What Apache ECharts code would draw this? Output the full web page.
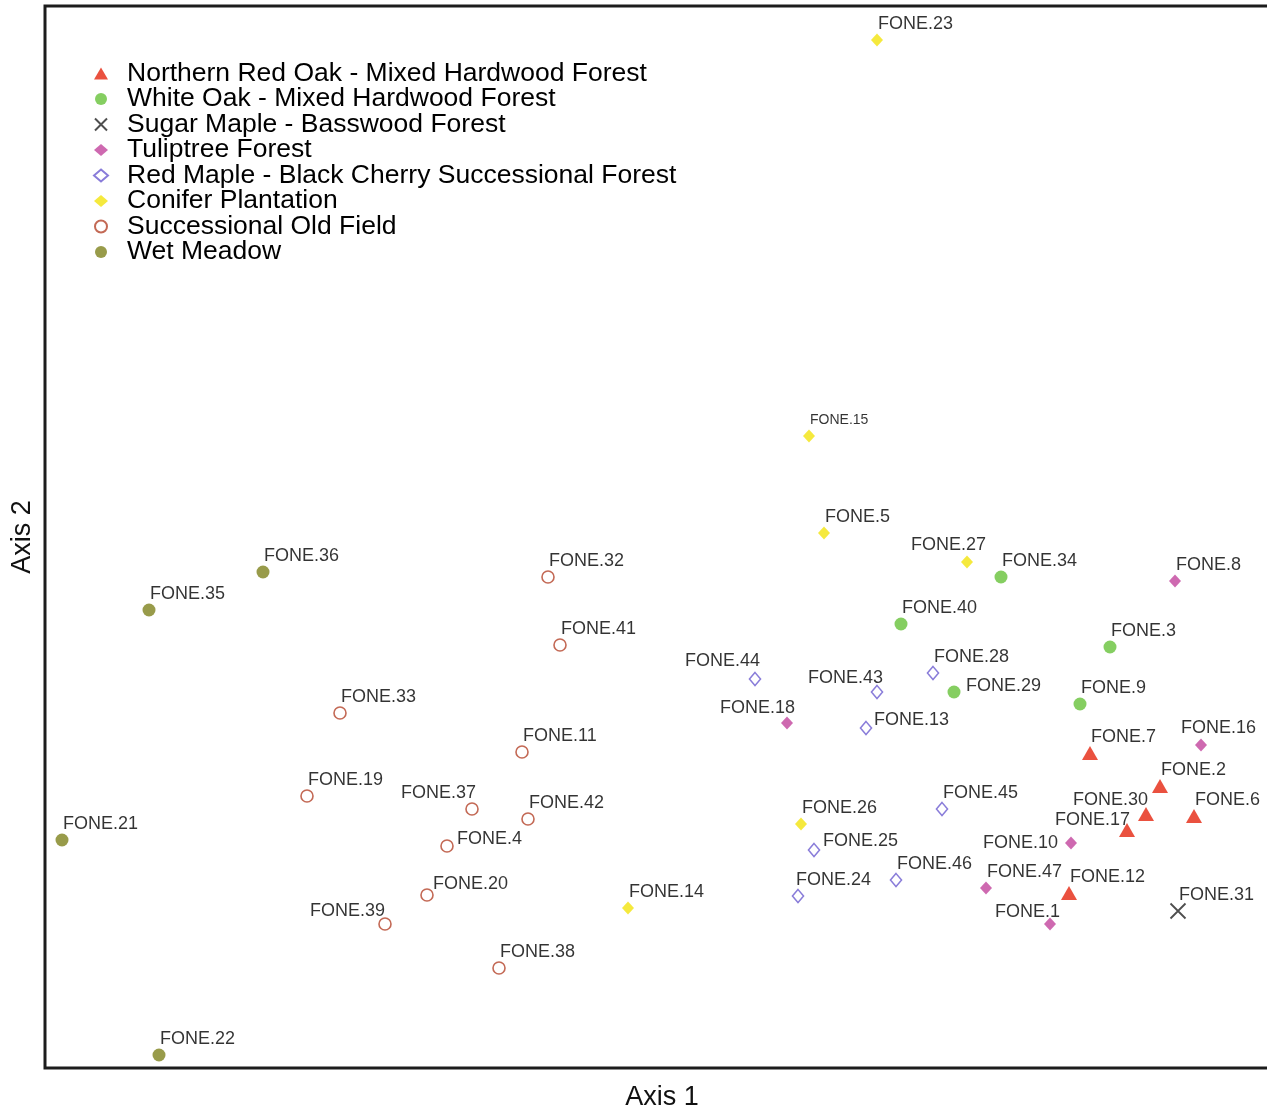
<!DOCTYPE html>
<html>
<head>
<meta charset="utf-8">
<script src="https://cdn.jsdelivr.net/npm/echarts@6/dist/echarts.min.js"></script>
<style>
  html, body { margin: 0; padding: 0; background: #fff; }
  #chart { width: 1267px; height: 1111px; }
</style>
</head>
<body>
<div id="chart"></div>
<script>
// ordination scores [site, axis 1, axis 2]
const redOak = [
  ['FONE.7', 1045, 315], ['FONE.2', 1115, 282], ['FONE.30', 1101, 254],
  ['FONE.17', 1082, 238], ['FONE.6', 1149, 252], ['FONE.12', 1024, 175]
]
const whiteOak = [
  ['FONE.40', 856, 444], ['FONE.34', 956, 491], ['FONE.3', 1065, 421],
  ['FONE.29', 909, 376], ['FONE.9', 1035, 364]
]
const sugarMaple = [
  ['FONE.31', 1133, 157]
]
const tuliptree = [
  ['FONE.8', 1130, 487], ['FONE.16', 1156, 323], ['FONE.18', 742, 345],
  ['FONE.10', 1026, 225], ['FONE.47', 941, 180], ['FONE.1', 1005, 144]
]
const redMaple = [
  ['FONE.44', 710, 389], ['FONE.43', 832, 376], ['FONE.28', 888, 395],
  ['FONE.13', 821, 340], ['FONE.45', 897, 259], ['FONE.25', 769, 218],
  ['FONE.46', 851, 188], ['FONE.24', 753, 172]
]
const conifer = [
  ['FONE.23', 832, 1028], ['FONE.15', 764, 632], ['FONE.5', 779, 535],
  ['FONE.27', 922, 506], ['FONE.26', 756, 244], ['FONE.14', 583, 160]
]
const oldField = [
  ['FONE.32', 503, 491], ['FONE.41', 515, 423], ['FONE.33', 295, 355],
  ['FONE.11', 477, 316], ['FONE.19', 262, 272], ['FONE.37', 427, 259],
  ['FONE.42', 483, 249], ['FONE.4', 402, 222], ['FONE.20', 382, 173],
  ['FONE.39', 340, 144], ['FONE.38', 454, 100]
]
const wetMeadow = [
  ['FONE.36', 218, 496], ['FONE.35', 104, 458], ['FONE.21', 17, 228],
  ['FONE.22', 114, 13]
]

const groupNames = [
  'Northern Red Oak - Mixed Hardwood Forest',
  'White Oak - Mixed Hardwood Forest',
  'Sugar Maple - Basswood Forest',
  'Tuliptree Forest',
  'Red Maple - Black Cherry Successional Forest',
  'Conifer Plantation',
  'Successional Old Field',
  'Wet Meadow'
]
const groups = [redOak, whiteOak, sugarMaple, tuliptree, redMaple, conifer, oldField, wetMeadow]

// label placement tweaks: [align, dx, dy]; default is upper right
const labelPlace = {
  'FONE.44': ['right', 5, -18], 'FONE.43': ['right', 6, -14], 'FONE.18': ['right', 8, -15],
  'FONE.27': ['right', 19, -17], 'FONE.37': ['right', 4, -16], 'FONE.30': ['right', 2, -14],
  'FONE.17': ['right', 3, -10], 'FONE.1': ['right', 10, -12], 'FONE.39': ['right', 0, -13],
  'FONE.10': ['right', -13, 0],
  'FONE.13': ['left', 8, -8], 'FONE.25': ['left', 9, -9], 'FONE.4': ['left', 10, -7],
  'FONE.29': ['left', 12, -6], 'FONE.20': ['left', 6, -11], 'FONE.16': ['left', -20, -17],
  'FONE.24': ['left', -2, -16]
}

const styles = [
  { symbol: 'triangle', symbolSize: [16, 14], itemStyle: { color: '#e5260f' } },
  { symbol: 'circle', symbolSize: 13, itemStyle: { color: '#67c23a' } },
  { symbol: 'path://M0,0L10,10M10,0L0,10', symbolSize: 15,
    itemStyle: { color: 'transparent', borderColor: '#222', borderWidth: 1.8 } },
  { symbol: 'diamond', symbolSize: [12, 13], itemStyle: { color: '#c2449c' } },
  { symbol: 'diamond', symbolSize: [11, 13],
    itemStyle: { color: '#fff', borderColor: '#6b5bd0', borderWidth: 1.6 } },
  { symbol: 'diamond', symbolSize: [12, 13], itemStyle: { color: '#f2e40c' } },
  { symbol: 'circle', symbolSize: 12,
    itemStyle: { color: '#fff', borderColor: '#b4432a', borderWidth: 1.6 } },
  { symbol: 'circle', symbolSize: 13, itemStyle: { color: '#7e821d' } }
]

const series = groups.map((pts, i) => ({
  name: groupNames[i],
  type: 'scatter',
  symbol: styles[i].symbol,
  symbolSize: styles[i].symbolSize,
  itemStyle: styles[i].itemStyle,
  emphasis: { disabled: true },
  data: pts.map(([name, x, y]) => {
    const p = labelPlace[name] || ['left', 1, -16]
    return {
      name,
      value: [x, y],
      label: {
        align: p[0],
        offset: [p[1], p[2]],
        fontSize: name === 'FONE.15' ? 14 : 18
      }
    }
  }),
  label: {
    show: true,
    position: 'inside',
    formatter: '{b}',
    verticalAlign: 'middle',
    color: '#000',
    fontFamily: 'Liberation Sans, Arial, sans-serif'
  }
}))

const chart = echarts.init(document.getElementById('chart'))
chart.setOption({
  animation: false,
  backgroundColor: '#fff',
  grid: {
    left: 45, right: -12, top: 6, bottom: 43,
    outerBoundsMode: 'none',
    containLabel: false,
    show: true, borderColor: '#1c1c1c', borderWidth: 3
  },
  legend: {
    orient: 'vertical',
    left: 88,
    top: 55,
    itemWidth: 14,
    itemHeight: 12,
    itemGap: -1.5,
    textStyle: {
      fontSize: 26.5,
      lineHeight: 25,
      color: '#000',
      fontFamily: 'Liberation Sans, Arial, sans-serif',
      padding: [0, 0, 0, 14]
    },
    data: groupNames
  },
  xAxis: {
    type: 'value', min: 0, max: 1234,
    name: 'Axis 1', nameLocation: 'middle', nameGap: 16,
    nameTextStyle: { fontSize: 27, color: '#111', fontFamily: 'Liberation Sans, Arial, sans-serif' },
    axisLine: { show: false }, axisTick: { show: false },
    axisLabel: { show: false }, splitLine: { show: false }
  },
  yAxis: {
    type: 'value', min: 0, max: 1062,
    name: 'Axis 2', nameLocation: 'middle', nameGap: 9,
    nameTextStyle: { fontSize: 27, color: '#111', fontFamily: 'Liberation Sans, Arial, sans-serif' },
    axisLine: { show: false }, axisTick: { show: false },
    axisLabel: { show: false }, splitLine: { show: false }
  },
  series
})
</script>
</body>
</html>
